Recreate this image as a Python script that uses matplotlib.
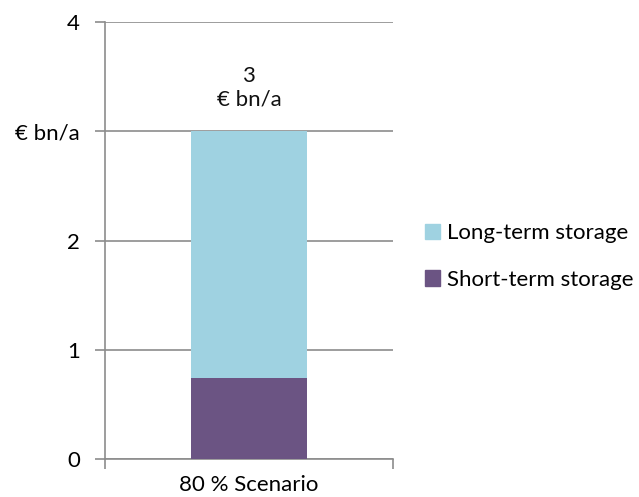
import matplotlib.pyplot as plt
from matplotlib.patches import Patch

plt.rcParams['font.family'] = ['Lato', 'DejaVu Sans']

scenarios = ['80 % Scenario']
short_term = [0.74]
long_term = [2.26]
total_label = ['3\n€ bn/a']
y_ticks = [0, 1, 2, 3, 4]
y_labels = ['0', '1', '2', '€ bn/a', '4']

c_long = '#9fd2e1'
c_short = '#6b5483'
grey = '#8c8c8c'
fs = 16

fig = plt.figure(figsize=(6.39, 4.97), dpi=100)
ax = fig.add_axes([0.164, 0.0765, 0.451, 0.879])

x = range(len(scenarios))
ax.bar(x, short_term, width=0.4, color=c_short, zorder=3)
ax.bar(x, long_term, width=0.4, bottom=short_term, color=c_long, zorder=3)

for i, (s, l) in enumerate(zip(short_term, long_term)):
    ax.text(i, s + l + 0.2, total_label[i], ha='center', va='bottom',
            fontsize=fs, color='#111111', linespacing=1.2)

ax.set_xlim(-0.5, 0.5)
ax.set_ylim(0, 4)
ax.set_yticks(y_ticks)
ax.set_yticklabels(y_labels, fontsize=fs)
ax.set_xticks([-0.5, 0.5])
ax.set_xticklabels(['', ''])
# category name sits under the bar, between the two end ticks
ax.text(0, -0.29, scenarios[0], ha='center', va='baseline', fontsize=fs,
        transform=ax.transData, clip_on=False)

ax.grid(axis='y', color=grey, linewidth=1.2, zorder=0)
for side in ['top', 'right']:
    ax.spines[side].set_visible(False)
for side in ['left', 'bottom']:
    ax.spines[side].set_color(grey)
    ax.spines[side].set_linewidth(1.2)
ax.tick_params(axis='y', length=7, color=grey, width=1.2, pad=11)
ax.tick_params(axis='x', length=7, color=grey, width=1.2)

handles = [Patch(color=c_long, label='Long-term storage'),
           Patch(color=c_short, label='Short-term storage')]
fig.legend(handles=handles, loc='center left', bbox_to_anchor=(0.665, 0.484),
           frameon=False, fontsize=fs, handlelength=0.68, handleheight=0.68,
           handletextpad=0.32, labelspacing=1.2, borderpad=0, borderaxespad=0)

fig.savefig('out.png', dpi=100)
